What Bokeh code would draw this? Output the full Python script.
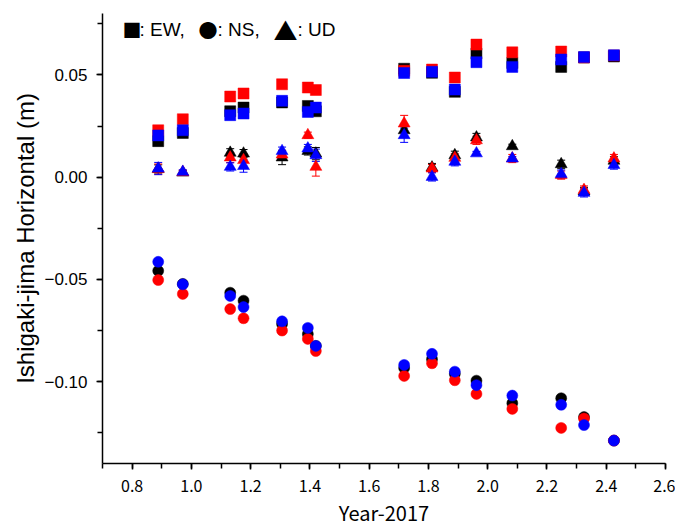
from bokeh.plotting import figure
from bokeh.models import (ColumnDataSource, Range1d, SingleIntervalTicker,
                          CustomJSTickFormatter, PrintfTickFormatter, Whisker,
                          TeeHead, Label)
from bokeh.embed import file_html
from bokeh.resources import INLINE

# epochs (year - 2017)
years = [0.888, 0.971, 1.131, 1.176, 1.306, 1.393, 1.420, 1.718,
         1.812, 1.889, 1.962, 2.083, 2.248, 2.325, 2.426]

# EW component (squares), metres
ew_red = [0.0229, 0.0283, 0.0394, 0.0409, 0.0454, 0.0438, 0.0426, 0.0520,
          0.0526, 0.0487, 0.0648, 0.0610, 0.0614, 0.0585, 0.0595]
ew_black = [0.0176, 0.0216, 0.0322, 0.0340, 0.0365, 0.0348, 0.0322, 0.0530,
            0.0510, 0.0417, 0.0604, 0.0558, 0.0539, 0.0585, 0.0590]
ew_blue = [0.0204, 0.0229, 0.0303, 0.0311, 0.0373, 0.0319, 0.0340, 0.0509,
           0.0515, 0.0428, 0.0562, 0.0539, 0.0575, 0.0587, 0.0596]

# NS component (circles)
ns_red = [-0.0503, -0.0571, -0.0645, -0.0690, -0.0750, -0.0791, -0.0850, -0.0972,
          -0.0910, -0.0993, -0.1060, -0.1133, -0.1226, -0.1180, -0.1288]
ns_black = [-0.0458, -0.0522, -0.0565, -0.0604, -0.0718, -0.0767, -0.0825, -0.0933,
            -0.0890, -0.0962, -0.0995, -0.1105, -0.1081, -0.1173, -0.1288]
ns_blue = [-0.0414, -0.0524, -0.0581, -0.0635, -0.0705, -0.0737, -0.0825, -0.0918,
           -0.0864, -0.0951, -0.1017, -0.1068, -0.1113, -0.1212, -0.1288]

# UD component (triangles)
ud_red = [0.0039, 0.0024, 0.0096, 0.0083, 0.0110, 0.0205, 0.0050, 0.0262,
          0.0042, 0.0094, 0.0180, 0.0091, 0.0010, -0.0063, 0.0091]
ud_black = [0.0040, 0.0022, 0.0119, 0.0115, 0.0096, 0.0128, 0.0115, 0.0229,
            0.0047, 0.0107, 0.0194, 0.0151, 0.0063, -0.0070, 0.0080]
ud_blue = [0.0042, 0.0026, 0.0050, 0.0054, 0.0127, 0.0140, 0.0107, 0.0205,
           0.0001, 0.0075, 0.0116, 0.0091, 0.0015, -0.0077, 0.0059]

# one-sigma errors
ew_err = [0.0010, 0.0008, 0.0010, 0.0010, 0.0010, 0.0010, 0.0010, 0.0012,
          0.0012, 0.0010, 0.0010, 0.0010, 0.0010, 0.0010, 0.0010]
ns_err = [0.0010, 0.0008, 0.0010, 0.0010, 0.0010, 0.0010, 0.0010, 0.0012,
          0.0012, 0.0010, 0.0010, 0.0010, 0.0010, 0.0010, 0.0010]
ud_err_red = [0.0025, 0.0010, 0.0025, 0.0030, 0.0020, 0.0015, 0.0045, 0.0040,
              0.0020, 0.0020, 0.0020, 0.0020, 0.0020, 0.0020, 0.0020]
ud_err_black = [0.0020, 0.0010, 0.0020, 0.0020, 0.0035, 0.0020, 0.0030, 0.0030,
                0.0020, 0.0020, 0.0020, 0.0010, 0.0020, 0.0020, 0.0020]
ud_err_blue = [0.0030, 0.0010, 0.0020, 0.0030, 0.0020, 0.0020, 0.0030, 0.0035,
               0.0020, 0.0020, 0.0010, 0.0010, 0.0020, 0.0020, 0.0020]

p = figure(width=675, height=529, output_backend="svg", toolbar_location=None,
           x_range=Range1d(0.7, 2.6), y_range=Range1d(-0.14, 0.08),
           min_border_left=102, min_border_right=10, min_border_top=13,
           min_border_bottom=65)
p.outline_line_color = None
p.grid.grid_line_color = None

series = [
    ("square", 11, [("black", ew_black, ew_err), ("red", ew_red, ew_err),
                    ("blue", ew_blue, ew_err)]),
    ("circle", 11, [("black", ns_black, ns_err), ("red", ns_red, ns_err),
                    ("blue", ns_blue, ns_err)]),
    ("triangle", 12, [("black", ud_black, ud_err_black), ("red", ud_red, ud_err_red),
                      ("blue", ud_blue, ud_err_blue)]),
]

sources = []
for marker, size, group in series:
    for color, vals, errs in group:
        src = ColumnDataSource(data=dict(
            x=years, y=vals,
            upper=[v + e for v, e in zip(vals, errs)],
            lower=[v - e for v, e in zip(vals, errs)],
        ))
        p.scatter("x", "y", source=src, marker=marker, size=size,
                  fill_color=color, line_color=color, line_width=0.5)
        sources.append((src, color))

# error bars drawn over the markers
for src, color in sources:
    w = Whisker(base="x", upper="upper", lower="lower", source=src,
                line_color=color, line_width=1,
                upper_head=TeeHead(size=8, line_color=color, line_width=1),
                lower_head=TeeHead(size=8, line_color=color, line_width=1))
    p.add_layout(w)

# axes
p.xaxis.ticker = SingleIntervalTicker(interval=0.2, num_minor_ticks=2)
p.xaxis.formatter = PrintfTickFormatter(format="%.1f")
p.yaxis.ticker = SingleIntervalTicker(interval=0.05, num_minor_ticks=2)
p.yaxis.formatter = CustomJSTickFormatter(
    code="if (Math.abs(tick) < 1e-9) { return '0.00'; } "
         "return tick.toFixed(2).replace('-', '\u2212');")

for ax in (p.xaxis[0], p.yaxis[0]):
    ax.axis_line_width = 1.5
    ax.axis_line_color = "black"
    ax.major_tick_line_width = 1.5
    ax.minor_tick_line_width = 1.5
    ax.major_tick_line_color = "black"
    ax.minor_tick_line_color = "black"
    ax.major_tick_in = 0
    ax.minor_tick_in = 0
    ax.major_tick_out = 6
    ax.minor_tick_out = 5
    ax.major_label_text_color = "black"
    ax.axis_label_text_color = "black"
    ax.axis_label_text_font_style = "normal"

p.xaxis.axis_label = "Year-2017"
p.xaxis.axis_label_text_font = "Noto Sans CJK JP"
p.xaxis.axis_label_text_font_size = "20px"
p.xaxis.axis_label_standoff = 3
p.xaxis.major_label_text_font = "Noto Sans CJK JP"
p.xaxis.major_label_text_font_size = "16px"
p.xaxis.major_label_standoff = 10

p.yaxis.axis_label = "Ishigaki-jima Horizontal (m)"
p.yaxis.axis_label_text_font = "Liberation Sans"
p.yaxis.axis_label_text_font_size = "24px"
p.yaxis.axis_label_standoff = 2
p.yaxis.major_label_text_font = "Liberation Sans"
p.yaxis.major_label_text_font_size = "17px"
p.yaxis.major_label_standoff = 9

# symbol key in the upper left
key_parts = [("\u25a0", 20, "Noto Sans CJK JP", "19px"),
             (": EW,", 37, "Liberation Sans", "19px"),
             ("\u25cf", 96, "Noto Sans CJK JP", "19px"),
             (": NS,", 115, "Liberation Sans", "19px"),
             ("\u25b2", 171, "Noto Sans CJK JP", "24px"),
             (": UD", 195, "Liberation Sans", "19px")]
for txt, off, font, fsize in key_parts:
    p.add_layout(Label(x=0.7, y=0.0721, x_offset=off, text=txt,
                       text_font=font, text_font_size=fsize,
                       text_color="black", text_baseline="alphabetic"))

open("out.html", "w").write(file_html(p, INLINE))
